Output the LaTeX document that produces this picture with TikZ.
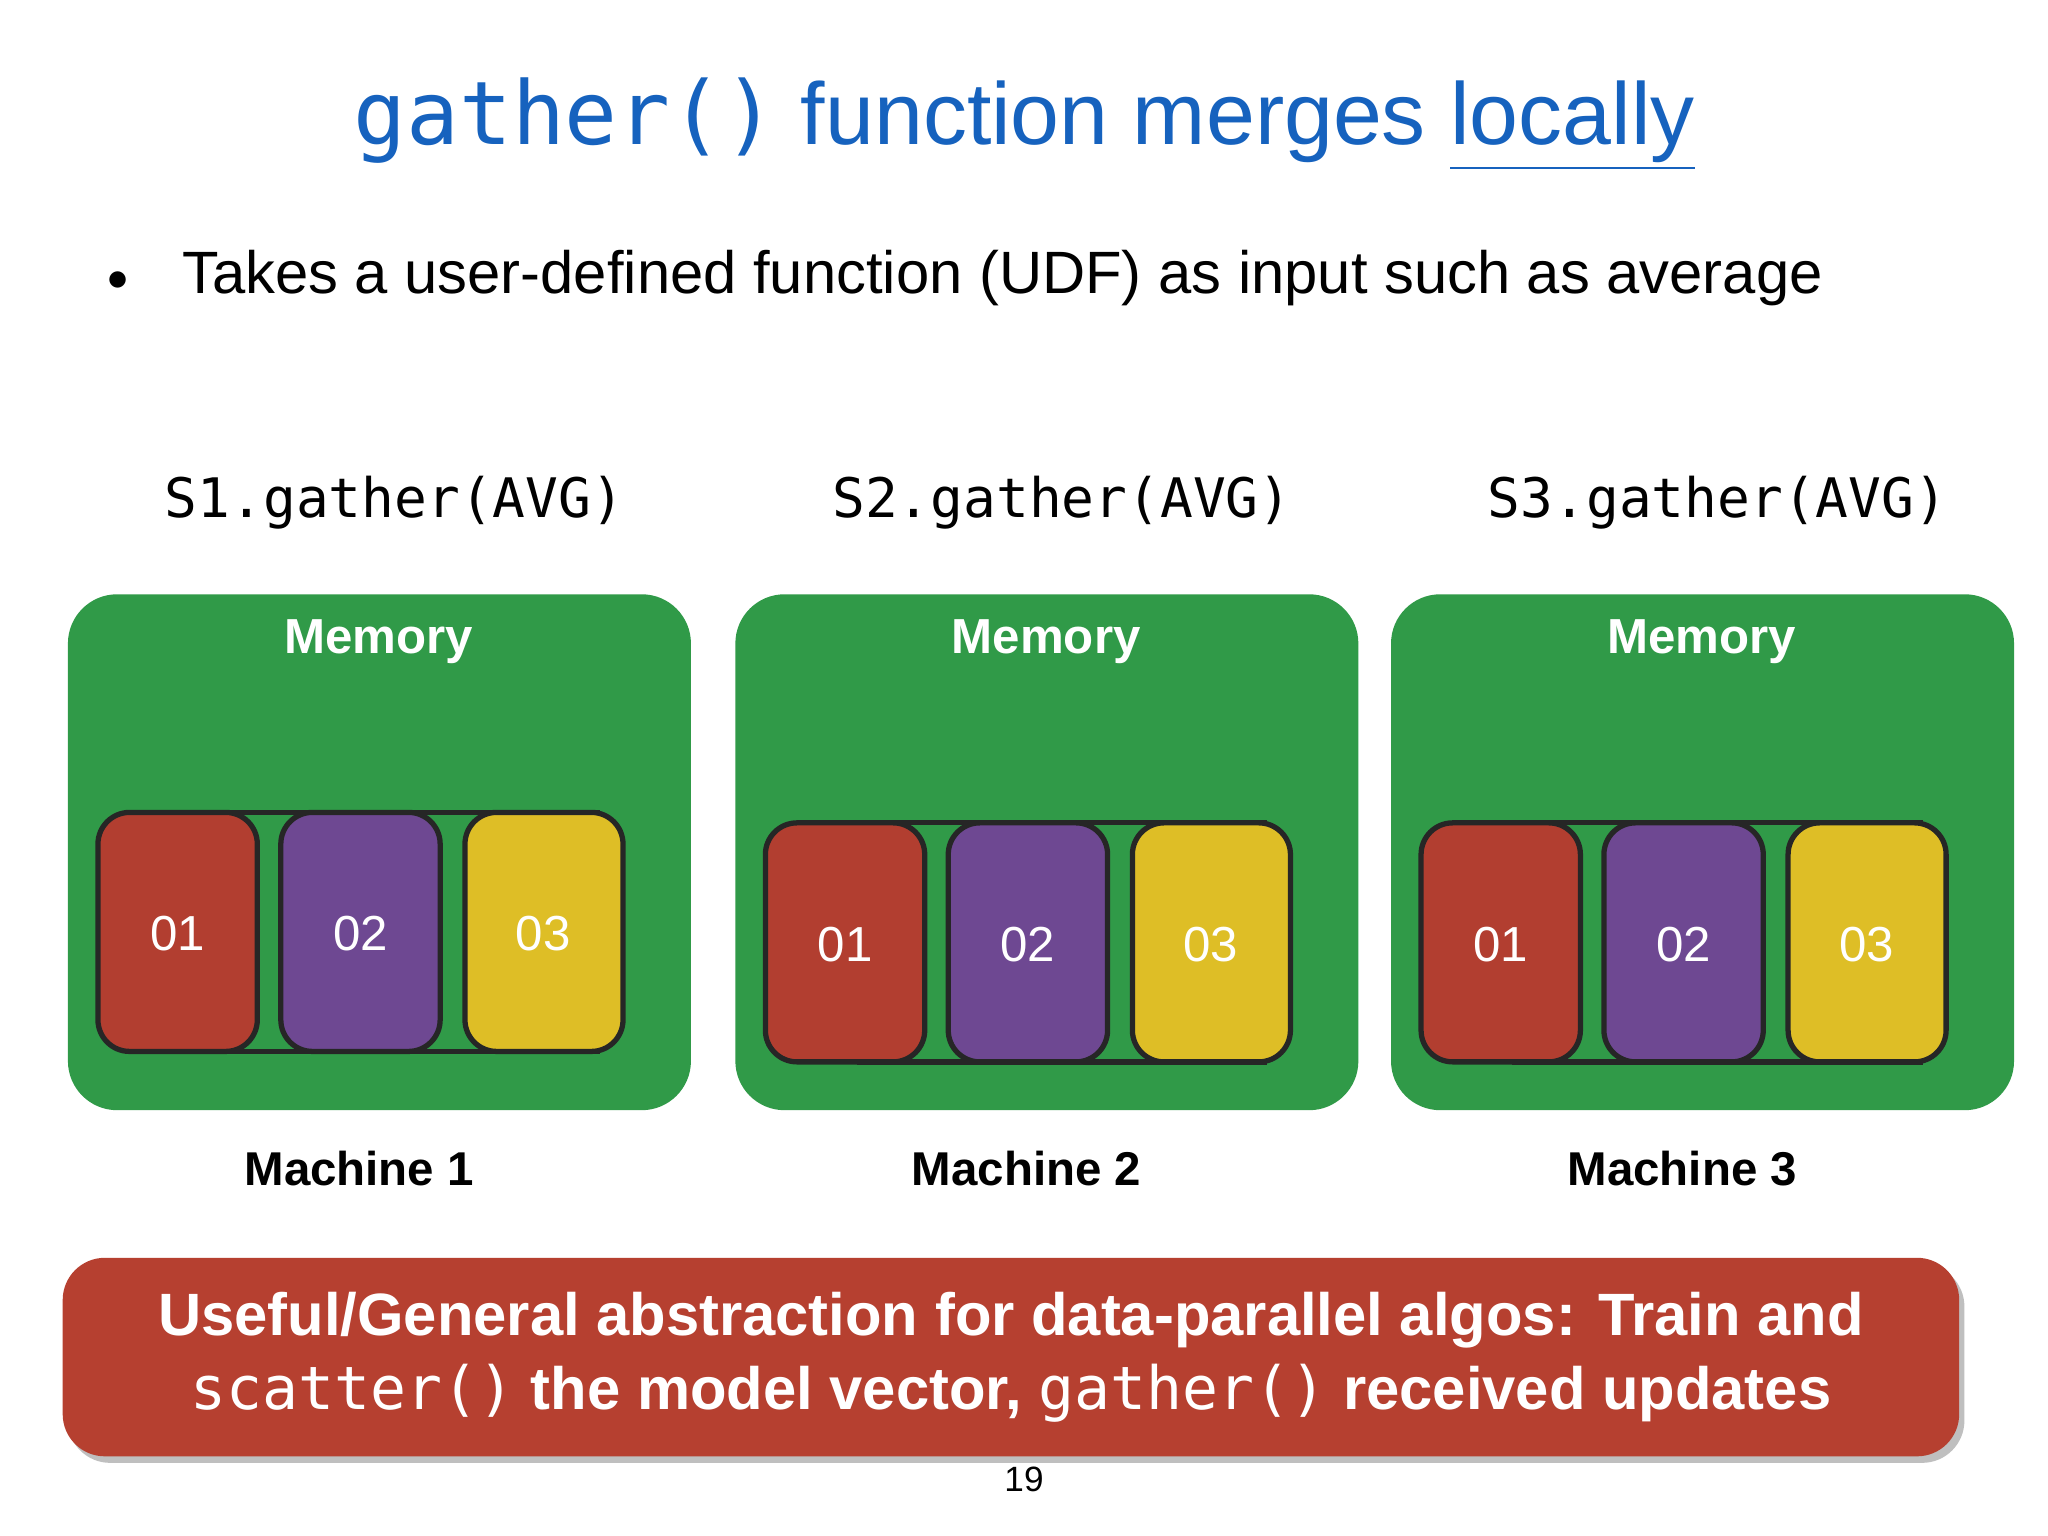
\documentclass[tikz,border=0pt]{standalone}
\usepackage{fontspec}
\setmainfont{Liberation Sans}
\setmonofont{DejaVu Sans Mono}
\usetikzlibrary{positioning}
\definecolor{titleblue}{RGB}{22,98,190}
\definecolor{memgreen}{RGB}{48,154,72}
\definecolor{partred}{RGB}{178,62,48}
\definecolor{partpurple}{RGB}{110,72,146}
\definecolor{partyellow}{RGB}{222,190,38}
\definecolor{bannerred}{RGB}{182,64,48}

\tikzset{
  machine/.style={fill=memgreen, rounded corners=14pt},
  part/.style={draw=black!85, line width=1.5pt, rounded corners=9pt},
  partlabel/.style={text=white, font=\fontsize{14}{16}\selectfont},
  memlabel/.style={text=white, font=\bfseries\fontsize{14}{16}\selectfont},
  calllabel/.style={font=\ttfamily\fontsize{15.5}{18}\selectfont},
  machlabel/.style={font=\bfseries\fontsize{13.5}{16}\selectfont}
}

\begin{document}
\begin{tikzpicture}[x=0.01306cm, y=-0.01306cm]
\useasboundingbox[fill=white] (0,0) rectangle (1568,1176);

%title
\node[text=titleblue, font=\fontsize{25}{30}\selectfont] (title) at (784,95)
  {\texttt{gather()} function merges \underline{locally}};
%bullet
\node[font=\fontsize{12}{14}\selectfont] (dot) at (90,215) {$\bullet$};
\node[anchor=west, font=\fontsize{17}{20}\selectfont] (bullet) at (130,213)
  {Takes a user-defined function (UDF) as input such as average};

%machines
\foreach \i/\x/\y in {1/52/622, 2/563/630, 3/1065/630}{
  \fill[machine] (\x,455) rectangle ++(477,395);
  \node[memlabel] (mem\i) at ({\x+238},491) {Memory};
  \node[calllabel] (call\i) at ({\x+250},385) {S\i.gather(AVG)};
  \node[machlabel] (mach\i) at ({\x+223},895) {Machine \i};
  % container behind partitions
  \draw[line width=1.5pt, black!85] ({\x+95},\y) rectangle ({\x+405},{\y+183});
  \filldraw[part, fill=partred] ({\x+23},\y) rectangle ++(122,183);
  \filldraw[part, fill=partpurple] ({\x+163},\y) rectangle ++(122,183);
  \filldraw[part, fill=partyellow] ({\x+304},\y) rectangle ++(121,183);
  \node[partlabel] (p\i a) at ({\x+84},{\y+93}) {01};
  \node[partlabel] (p\i b) at ({\x+224},{\y+93}) {02};
  \node[partlabel] (p\i c) at ({\x+364},{\y+93}) {03};
}

%banner
\fill[black!25] (52,968) [rounded corners=12pt] rectangle (1504,1120);
\fill[bannerred, rounded corners=12pt] (48,963) rectangle (1500,1115);
\node[text=white, font=\bfseries\fontsize{17}{21}\selectfont, align=center] (banner) at (774,1039)
  {Useful/General abstraction for data-parallel algos: Train and\\
   \texttt{\mdseries scatter()} the model vector, \texttt{\mdseries gather()} received updates};
\node[font=\fontsize{10}{12}\selectfont] (page) at (784,1133) {19};
\end{tikzpicture}
\end{document}
